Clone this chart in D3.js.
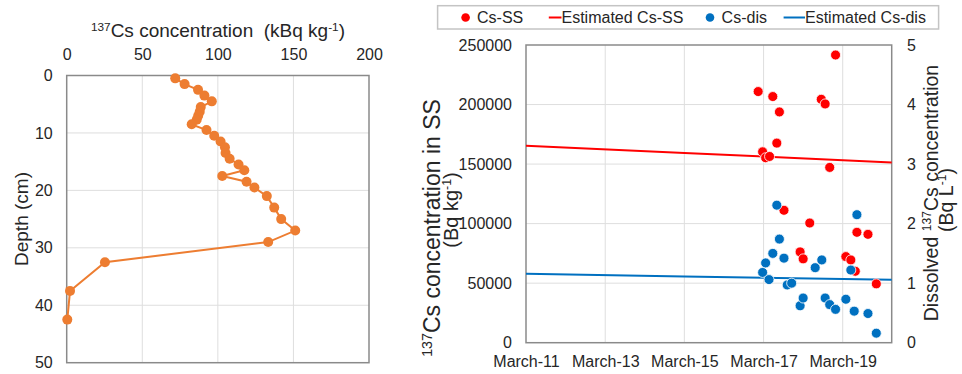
<!DOCTYPE html>
<html>
<head>
<meta charset="utf-8">
<script src="https://cdn.jsdelivr.net/npm/d3@7"></script>
<style>
  body { margin: 0; background: #fff; }
  svg { font-family: "Liberation Sans", Arial, sans-serif; }
  text { white-space: pre; }
</style>
</head>
<body>
<div id="chart"></div>
<script>
// ---- left panel: depth profile ----
const depthCm = [0.5, 1.5, 2.5, 3.5, 4.5, 5.5, 6.3, 7.0, 7.7, 8.5, 9.5, 10.5, 11.5, 12.5, 13.5, 14.5, 15.5, 16.5, 17.5, 18.5, 19.5, 21, 23, 25, 27, 29, 32.5, 37.5, 42.5];
const csProfile = [71.8, 78, 86.9, 91.1, 96, 88.7, 88, 87, 86, 82.7, 92.5, 97.6, 101.8, 104.7, 105.1, 107.8, 113.7, 117.5, 102.9, 119, 124.2, 132.4, 137.3, 141.9, 151.2, 133.3, 25.3, 2.2, 0.4];
const profileXTicks = [0, 50, 100, 150, 200];
const profileYTicks = [0, 10, 20, 30, 40, 50];

// ---- right panel: time series ----
const ssDates = ["2017-01-10", "2017-05-25", "2017-07-25", "2017-02-20", "2017-03-20", "2017-04-25", "2017-07-01", "2018-08-15", "2018-09-20", "2018-12-25", "2018-11-01", "2017-09-05", "2018-05-01", "2018-02-01", "2018-03-01", "2019-03-30", "2019-05-15", "2019-06-25", "2019-07-10", "2019-10-20", "2020-01-05"];
const ssValues = [210900, 206700, 193800, 160300, 155300, 156400, 167600, 204400, 200500, 241600, 147200, 111200, 100500, 76250, 70400, 72300, 69500, 60000, 92700, 91000, 49400];
const disDates = ["2017-02-20", "2017-03-20", "2017-05-25", "2017-04-20", "2017-07-01", "2017-07-25", "2017-09-05", "2017-10-05", "2017-11-15", "2018-02-01", "2018-03-01", "2018-06-20", "2018-08-20", "2018-09-20", "2018-11-01", "2018-12-25", "2019-03-30", "2019-05-15", "2019-06-15", "2019-07-10", "2019-10-20", "2020-01-05"];
const disValues = [1.18, 1.34, 1.50, 1.06, 2.31, 1.74, 1.42, 0.97, 1.00, 0.62, 0.75, 1.26, 1.39, 0.75, 0.64, 0.56, 0.73, 1.22, 0.53, 2.15, 0.49, 0.16];
const estDates = ["2011-03-01", "2015-03-01", "2020-05-26"];
const estSS = [165400, 159300, 151400];
const estDis = [1.156, 1.113, 1.056];
const timeTicks = ["2011-03-01", "2013-03-01", "2015-03-01", "2017-03-01", "2019-03-01"];
const ssTicks = [0, 50000, 100000, 150000, 200000, 250000];
const disTicks = [0, 1, 2, 3, 4, 5];

const ORANGE = "#ed7d31", RED = "#ff0000", BLUE = "#0070c0";
const GRID = "#dedede", FRAME = "#8a8a8a";

const svg = d3.select("#chart").append("svg")
  .attr("width", 962).attr("height", 374);

// superscript helper
function addSup(t, parts, size) {
  parts.forEach(([s, sup]) => {
    t.append("tspan")
      .attr("baseline-shift", sup ? "super" : null)
      .attr("font-size", sup ? size * 0.62 : null)
      .text(s);
  });
}

// ===== left panel =====
{
  const x = d3.scaleLinear().domain([0, 200]).range([66.7, 369]);
  const y = d3.scaleLinear().domain([0, 50]).range([75.5, 362.7]);
  const g = svg.append("g");

  // grid
  g.selectAll(".gx").data(profileXTicks.slice(1, -1)).enter().append("line")
    .attr("x1", d => x(d)).attr("x2", d => x(d))
    .attr("y1", y(0)).attr("y2", y(50))
    .attr("stroke", GRID).attr("stroke-width", 1);
  g.selectAll(".gy").data(profileYTicks.slice(1, -1)).enter().append("line")
    .attr("x1", x(0)).attr("x2", x(200))
    .attr("y1", d => y(d)).attr("y2", d => y(d))
    .attr("stroke", GRID).attr("stroke-width", 1);

  g.append("rect")
    .attr("x", x(0)).attr("y", y(0))
    .attr("width", x(200) - x(0)).attr("height", y(50) - y(0))
    .attr("fill", "none").attr("stroke", FRAME).attr("stroke-width", 1.5);

  const xAxis = g.append("g").attr("transform", `translate(0,${y(0)})`)
    .call(d3.axisTop(x).tickValues(profileXTicks).tickSize(0).tickPadding(16));
  const yAxis = g.append("g").attr("transform", `translate(${x(0)},0)`)
    .call(d3.axisLeft(y).tickValues(profileYTicks).tickSize(0).tickPadding(14));
  [xAxis, yAxis].forEach(a => {
    a.select(".domain").remove();
    a.selectAll("text").attr("font-size", 16).attr("fill", "#262626")
      .attr("font-family", "Liberation Sans, Arial, sans-serif");
  });

  const pts = depthCm.map((d, i) => ({ d, v: csProfile[i] }));
  g.append("path").datum(pts)
    .attr("fill", "none").attr("stroke", ORANGE).attr("stroke-width", 2)
    .attr("d", d3.line().x(p => x(p.v)).y(p => y(p.d)));
  g.selectAll(".pt").data(pts).enter().append("circle")
    .attr("cx", p => x(p.v)).attr("cy", p => y(p.d)).attr("r", 5)
    .attr("fill", ORANGE);

  const title = g.append("text").attr("x", 218).attr("y", 37)
    .attr("text-anchor", "middle").attr("font-size", 19).attr("fill", "#262626");
  addSup(title, [["137", true], ["Cs concentration  (kBq kg", false], ["-1", true], [")", false]], 19);

  g.append("text").attr("transform", "translate(28,219) rotate(-90)")
    .attr("text-anchor", "middle").attr("font-size", 19).attr("fill", "#262626")
    .text("Depth (cm)");
}

// ===== right panel =====
{
  const parse = d3.timeParse("%Y-%m-%d");
  const x = d3.scaleTime().domain([parse("2011-03-01"), parse("2020-05-26")]).range([526, 891.7]);
  const yL = d3.scaleLinear().domain([0, 250000]).range([342.7, 45]);
  const yR = d3.scaleLinear().domain([0, 5]).range([342.7, 45]);
  const g = svg.append("g");
  const tDates = timeTicks.map(parse);

  g.selectAll(".gx").data(tDates.slice(1)).enter().append("line")
    .attr("x1", d => x(d)).attr("x2", d => x(d))
    .attr("y1", yL(0)).attr("y2", yL(250000))
    .attr("stroke", GRID).attr("stroke-width", 1);
  g.selectAll(".gy").data(ssTicks.slice(1, -1)).enter().append("line")
    .attr("x1", x.range()[0]).attr("x2", x.range()[1])
    .attr("y1", d => yL(d)).attr("y2", d => yL(d))
    .attr("stroke", GRID).attr("stroke-width", 1);

  g.append("rect")
    .attr("x", x.range()[0]).attr("y", yL(250000))
    .attr("width", x.range()[1] - x.range()[0]).attr("height", yL(0) - yL(250000))
    .attr("fill", "none").attr("stroke", FRAME).attr("stroke-width", 1.5);

  const fmt = d3.timeFormat("March-%y");
  const axB = g.append("g").attr("transform", `translate(0,${yL(0)})`)
    .call(d3.axisBottom(x).tickValues(tDates).tickFormat(fmt).tickSize(0).tickPadding(12.6));
  const axL = g.append("g").attr("transform", `translate(${x.range()[0]},0)`)
    .call(d3.axisLeft(yL).tickValues(ssTicks).tickFormat(d3.format("d")).tickSize(0).tickPadding(14));
  const axR = g.append("g").attr("transform", `translate(${x.range()[1]},0)`)
    .call(d3.axisRight(yR).tickValues(disTicks).tickFormat(d3.format("d")).tickSize(0).tickPadding(15.3));
  [axB, axL, axR].forEach(a => {
    a.select(".domain").remove();
    a.selectAll("text").attr("font-size", 16).attr("fill", "#262626")
      .attr("font-family", "Liberation Sans, Arial, sans-serif");
  });

  // estimated lines
  const estSSPts = estDates.map((d, i) => ({ t: parse(d), v: estSS[i] }));
  const estDisPts = estDates.map((d, i) => ({ t: parse(d), v: estDis[i] }));
  g.append("path").datum(estSSPts)
    .attr("fill", "none").attr("stroke", RED).attr("stroke-width", 2)
    .attr("d", d3.line().x(p => x(p.t)).y(p => yL(p.v)));
  g.append("path").datum(estDisPts)
    .attr("fill", "none").attr("stroke", BLUE).attr("stroke-width", 2)
    .attr("d", d3.line().x(p => x(p.t)).y(p => yR(p.v)));

  // observations
  g.selectAll(".ss").data(ssDates.map((d, i) => ({ t: parse(d), v: ssValues[i] })))
    .enter().append("circle")
    .attr("cx", p => x(p.t)).attr("cy", p => yL(p.v)).attr("r", 5)
    .attr("fill", RED).attr("stroke", "#fff").attr("stroke-width", 0.8);
  g.selectAll(".dis").data(disDates.map((d, i) => ({ t: parse(d), v: disValues[i] })))
    .enter().append("circle")
    .attr("cx", p => x(p.t)).attr("cy", p => yR(p.v)).attr("r", 5)
    .attr("fill", BLUE).attr("stroke", "#fff").attr("stroke-width", 0.8);

  // axis titles
  const lt1 = g.append("text").attr("transform", "translate(440,228) rotate(-90)")
    .attr("text-anchor", "middle").attr("font-size", 23).attr("fill", "#262626");
  addSup(lt1, [["137", true], ["Cs concentration in SS", false]], 23);
  const lt2 = g.append("text").attr("transform", "translate(458,210) rotate(-90)")
    .attr("text-anchor", "middle").attr("font-size", 20).attr("fill", "#262626");
  addSup(lt2, [["(Bq kg", false], ["-1", true], [")", false]], 20);

  const rt1 = g.append("text").attr("transform", "translate(938,193) rotate(-90)")
    .attr("text-anchor", "middle").attr("font-size", 19.5).attr("fill", "#262626");
  addSup(rt1, [["Dissolved ", false], ["137", true], ["Cs concentration", false]], 19.5);
  const rt2 = g.append("text").attr("transform", "translate(953,200) rotate(-90)")
    .attr("text-anchor", "middle").attr("font-size", 19.5).attr("fill", "#262626");
  addSup(rt2, [["(Bq L", false], ["-1", true], [")", false]], 19.5);

  // legend
  const lg = g.append("g");
  lg.append("rect").attr("x", 437.6).attr("y", 5.7).attr("width", 501).attr("height", 23.3)
    .attr("fill", "#fff").attr("stroke", "#c4c4c4").attr("stroke-width", 1.5);
  const items = [
    { kind: "dot", color: RED, x: 465.6, tx: 477, label: "Cs-SS" },
    { kind: "line", color: RED, x: 548.8, tx: 561.5, label: "Estimated Cs-SS" },
    { kind: "dot", color: BLUE, x: 710, tx: 721.6, label: "Cs-dis" },
    { kind: "line", color: BLUE, x: 783.6, tx: 805, label: "Estimated Cs-dis" },
  ];
  items.forEach(it => {
    if (it.kind === "dot") {
      lg.append("circle").attr("cx", it.x).attr("cy", 17.5).attr("r", 4.3).attr("fill", it.color);
    } else {
      lg.append("line").attr("x1", it.x).attr("x2", it.tx).attr("y1", 17.5).attr("y2", 17.5)
        .attr("stroke", it.color).attr("stroke-width", 2);
    }
    lg.append("text").attr("x", it.tx).attr("y", 23.2)
      .attr("font-size", 16).attr("fill", "#262626").text(it.label);
  });
}
</script>
</body>
</html>
